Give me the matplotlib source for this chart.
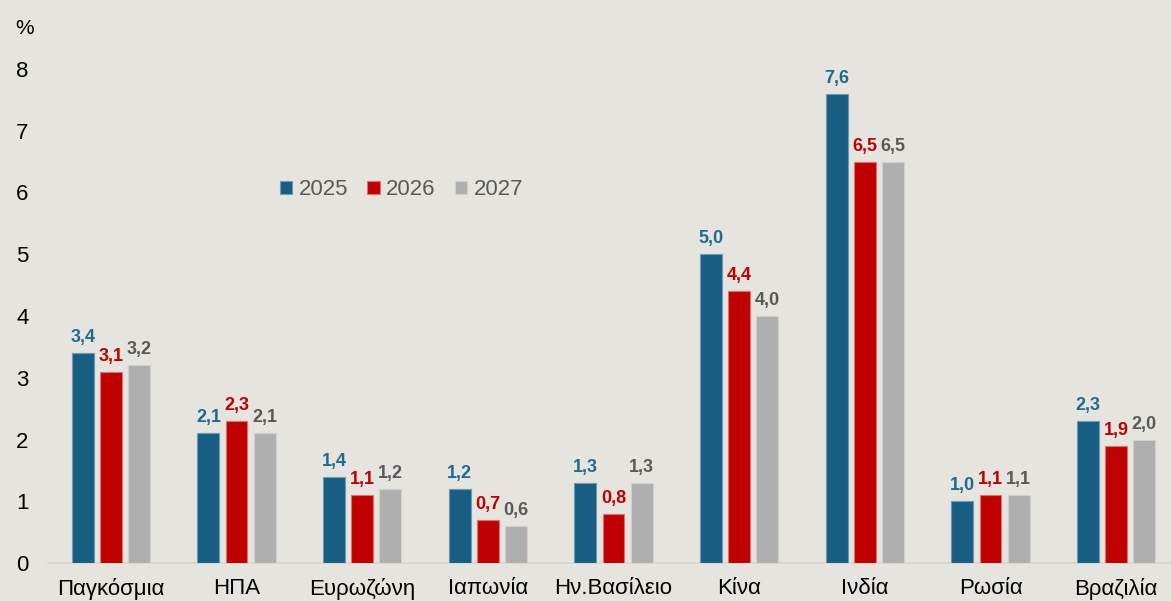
import matplotlib.pyplot as plt
import numpy as np

plt.rcParams['font.family'] = ['Liberation Sans', 'DejaVu Sans']

categories = ['Παγκόσμια', 'ΗΠΑ', 'Ευρωζώνη', 'Ιαπωνία', 'Ην.Βασίλειο',
              'Κίνα', 'Ινδία', 'Ρωσία', 'Βραζιλία']
years = ['2025', '2026', '2027']
v2025 = [3.4, 2.1, 1.4, 1.2, 1.3, 5.0, 7.6, 1.0, 2.3]
v2026 = [3.1, 2.3, 1.1, 0.7, 0.8, 4.4, 6.5, 1.1, 1.9]
v2027 = [3.2, 2.1, 1.2, 0.6, 1.3, 4.0, 6.5, 1.1, 2.0]

bg = '#e5e4df'
bar_colors = ['#175e82', '#c00000', '#afafaf']
label_colors = ['#1d6a92', '#c00000', '#595959']
edge_colors = ['#6f9ab3', '#e07070', '#d0d0d0']

fig = plt.figure(figsize=(11.71, 6.01), dpi=100)
fig.patch.set_facecolor(bg)
W, H = 1171, 601
ax = fig.add_axes([48 / W, (H - 563) / H, (1179 - 48) / W, (563 - 69) / H])
ax.set_facecolor(bg)

x = np.arange(len(categories))
width = 0.175
step = 0.223
for i, vals in enumerate([v2025, v2026, v2027]):
    pos = x + (i - 1) * step
    ax.bar(pos, vals, width, color=bar_colors[i], edgecolor=edge_colors[i],
           linewidth=0.8, label=years[i], zorder=3)
    for p, v in zip(pos, vals):
        ax.annotate(f'{v:.1f}'.replace('.', ','), (p, v), xytext=(0, 5),
                    textcoords='offset points', ha='center', va='bottom',
                    fontsize=13, fontweight='bold', color=label_colors[i],
                    annotation_clip=False)

ax.set_xlim(-0.5, len(categories) - 0.5)
ax.set_ylim(0, 8)
ax.set_yticks(range(0, 9))
ax.set_xticks(x)
ax.set_xticklabels(categories)
ax.tick_params(axis='both', length=0, labelsize=16, colors='#000000')
ax.tick_params(axis='y', pad=14)
ax.tick_params(axis='x', pad=11)
for s in ['top', 'right', 'left']:
    ax.spines[s].set_visible(False)
ax.spines['bottom'].set_color('#d6d5d0')
ax.spines['bottom'].set_linewidth(1.2)

fig.text(25 / W, 1 - 28 / H, '%', fontsize=15, ha='center', va='center')

leg = ax.legend(loc='center left', bbox_to_anchor=(280 / W, 1 - 190 / H),
                bbox_transform=fig.transFigure, ncol=3, frameon=False,
                fontsize=16, handlelength=0.55, handleheight=0.55,
                handletextpad=0.3, columnspacing=0.85, borderaxespad=0,
                borderpad=0)
for t in leg.get_texts():
    t.set_color('#595959')

fig.savefig('out.png', dpi=100, facecolor=bg)
